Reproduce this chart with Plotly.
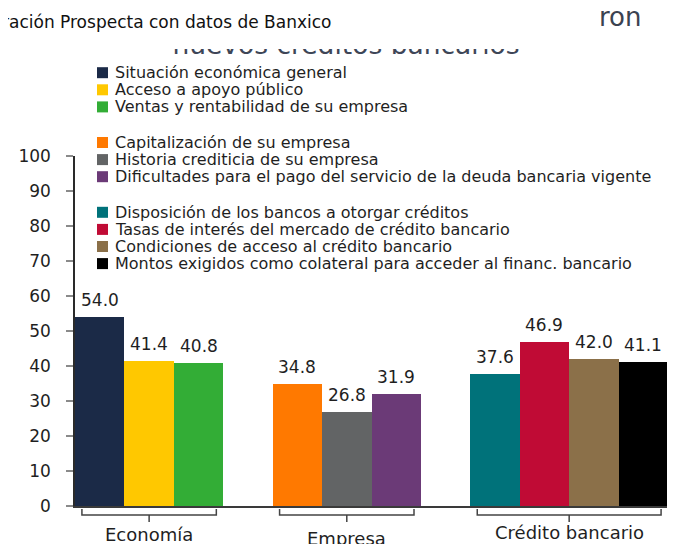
import plotly.graph_objects as go

# data
categories = ["Economía", "Empresa", "Crédito bancario"]

economia_names = [
    "Situación económica general",
    "Acceso a apoyo público",
    "Ventas y rentabilidad de su empresa",
]
economia_values = [54.0, 41.4, 40.8]

empresa_names = [
    "Capitalización de su empresa",
    "Historia crediticia de su empresa",
    "Dificultades para el pago del servicio de la deuda bancaria vigente",
]
empresa_values = [34.8, 26.8, 31.9]

credito_names = [
    "Disposición de los bancos a otorgar créditos",
    "Tasas de interés del mercado de crédito bancario",
    "Condiciones de acceso al crédito bancario",
    "Montos exigidos como colateral para acceder al financ. bancario",
]
credito_values = [37.6, 46.9, 42.0, 41.1]

y_ticks = [0, 10, 20, 30, 40, 50, 60, 70, 80, 90, 100]

# styles
economia_colors = ["#1b2a47", "#ffc800", "#33ad36"]
empresa_colors = ["#ff7900", "#626465", "#6b3a77"]
credito_colors = ["#00727a", "#c00b35", "#8b7049", "#000000"]

FONT = "DejaVu Sans"
TEXT = "#1f1f1f"
SLOTS = 4  # bars per category slot (Excel-style clustered layout)

# the page body adds an 8px margin, so the figure is drawn 8px in
OFF = 8
W, H = 675 - OFF, 544 - OFF
PLOT_L, PLOT_R, PLOT_T, PLOT_B = 75, 668, 156, 506


def px(x):
    """Window pixel x -> paper x."""
    return (x - OFF) / W


def py(y):
    """Window pixel y -> paper y."""
    return (H - (y - OFF)) / H


groups = [
    (categories[0], economia_names, economia_values, economia_colors),
    (categories[1], empresa_names, empresa_values, empresa_colors),
    (categories[2], credito_names, credito_values, credito_colors),
]

fig = go.Figure()
shapes = []
annotations = []

for i, (cat, names, values, colors) in enumerate(groups):
    for slot, (name, val, col) in enumerate(zip(names, values, colors)):
        fig.add_trace(
            go.Bar(
                x=[cat],
                y=[val],
                name=name,
                offsetgroup=str(slot),
                marker=dict(color=col, line_width=0),
                showlegend=False,
            )
        )
        # value label, a bit higher than plotly's outside text would sit
        annotations.append(
            dict(
                text=f"{val:.1f}", xref="x", yref="y",
                x=i - 0.5 + (slot + 0.5) / SLOTS, y=val,
                xanchor="center", yanchor="bottom", yshift=5, showarrow=False,
                font=dict(family=FONT, size=17, color=TEXT),
            )
        )

# half-hidden title behind the source box: text clipped by its own small subplot
fig.add_trace(
    go.Scatter(
        x=[346],
        y=[-47.5],
        mode="text",
        text=["nuevos créditos bancarios"],
        textposition="middle center",
        textfont=dict(family=FONT, size=26.5, color="#3e4657"),
        cliponaxis=True,
        showlegend=False,
        hoverinfo="skip",
        xaxis="x2",
        yaxis="y2",
    )
)

# hand-placed legend, three blocks
row = 0
for gi, (cat, names, values, colors) in enumerate(groups):
    for name, col in zip(names, colors):
        yc = 72.7 + row * 17.1 + gi * 18.5
        shapes.append(
            dict(
                type="rect", xref="paper", yref="paper",
                x0=px(97), x1=px(108), y0=py(yc + 5.5), y1=py(yc - 5.5),
                fillcolor=col, line_width=0,
            )
        )
        annotations.append(
            dict(
                text=name, xref="paper", yref="paper",
                x=px(113), y=py(yc), xanchor="left", yanchor="middle",
                showarrow=False, font=dict(family=FONT, size=16, color=TEXT),
            )
        )
        row += 1

# brackets under each group of bars and the group names
label_y = [534, 538, 532]
for i, (cat, names, values, colors) in enumerate(groups):
    n = len(values)
    xl = i - 0.5 + 0.035
    xr = i - 0.5 + n / SLOTS - 0.035
    xc = i - 0.5 + n / SLOTS / 2
    y1, y2, y3 = py(509), py(515), py(522)
    shapes.append(
        dict(
            type="path", xref="x", yref="paper",
            path=f"M {xl},{y1} L {xl},{y2} L {xr},{y2} L {xr},{y1} M {xc},{y2} L {xc},{y3}",
            line=dict(color="#444444", width=1.5),
        )
    )
    annotations.append(
        dict(
            text=cat, xref="x", yref="paper", x=xc, y=py(label_y[i]),
            xanchor="center", yanchor="middle", showarrow=False,
            font=dict(family=FONT, size=18, color=TEXT),
        )
    )

annotations.append(
    dict(
        text="ración Prospecta con datos de Banxico", xref="paper", yref="paper",
        x=px(0), y=py(22), xanchor="left", yanchor="middle", showarrow=False,
        font=dict(family=FONT, size=17, color="#111111"),
    )
)
annotations.append(
    dict(
        text="ron", xref="paper", yref="paper",
        x=px(597), y=py(17), xanchor="left", yanchor="middle", showarrow=False,
        font=dict(family=FONT, size=26, color="#3b4250"),
    )
)

fig.update_layout(
    width=W,
    height=H,
    margin=dict(l=0, r=0, t=0, b=0),
    paper_bgcolor="white",
    plot_bgcolor="white",
    barmode="group",
    bargap=0,
    bargroupgap=0,
    showlegend=False,
    font=dict(family=FONT, color=TEXT),
    shapes=shapes,
    annotations=annotations,
    xaxis=dict(
        domain=[px(PLOT_L), px(PLOT_R)],
        range=[-0.5, 2.5],
        showline=True,
        linecolor="#3a3a3a",
        linewidth=2,
        showticklabels=False,
        ticks="",
        showgrid=False,
        zeroline=False,
        automargin=False,
    ),
    yaxis=dict(
        domain=[py(PLOT_B), py(PLOT_T)],
        range=[0, 100],
        tickvals=y_ticks,
        showline=True,
        linecolor="#2a2a2a",
        linewidth=1.5,
        ticks="outside",
        ticklen=7,
        tickcolor="#8a8a8a",
        tickwidth=1.5,
        ticklabelstandoff=12,
        tickfont=dict(family=FONT, size=17, color=TEXT),
        showgrid=False,
        zeroline=False,
        automargin=False,
    ),
    # small window in pixel units that crops the half-hidden title
    xaxis2=dict(
        domain=[0, 1], range=[OFF, OFF + W], visible=False, anchor="y2",
        fixedrange=True,
    ),
    yaxis2=dict(
        domain=[py(62), py(49)], range=[-62, -49], visible=False, anchor="x2",
        fixedrange=True,
    ),
)

fig.write_html("out.html")
